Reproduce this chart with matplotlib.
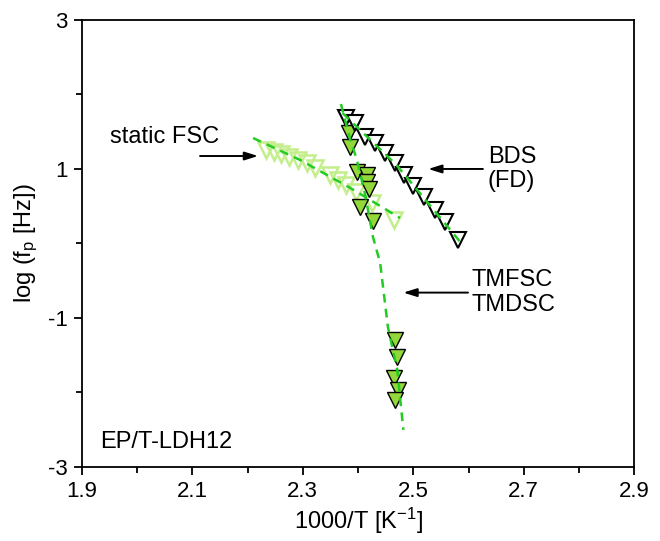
import matplotlib
matplotlib.use("Agg")
import matplotlib.pyplot as plt
from matplotlib.ticker import MultipleLocator

plt.rcParams['font.family'] = ['Liberation Sans', 'DejaVu Sans']
plt.rcParams['mathtext.fontset'] = 'custom'
plt.rcParams['mathtext.rm'] = 'Liberation Sans'
plt.rcParams['mathtext.it'] = 'Liberation Sans'

# BDS (FD) data
bds_x = [2.378, 2.395, 2.413, 2.431, 2.449, 2.467, 2.483, 2.500, 2.520, 2.539, 2.558, 2.581]
bds_y = [1.685, 1.617, 1.430, 1.349, 1.215, 1.081, 0.919, 0.772, 0.624, 0.450, 0.289, 0.047]
bds_fit_x = [2.372, 2.470, 2.585]
bds_fit_y = [1.75, 1.05, 0.02]

# static FSC data
sfsc_x = [2.233, 2.248, 2.261, 2.275, 2.291, 2.308, 2.322, 2.349, 2.364, 2.378, 2.396, 2.425, 2.465]
sfsc_y = [1.255, 1.228, 1.201, 1.161, 1.121, 1.081, 1.013, 0.919, 0.852, 0.785, 0.691, 0.544, 0.315]
sfsc_fit_x = [2.210, 2.295, 2.386, 2.476]
sfsc_fit_y = [1.416, 1.121, 0.745, 0.342]

# TMFSC / TMDSC data
tm_x = [2.384, 2.386, 2.398, 2.416, 2.416, 2.420, 2.404, 2.427, 2.467, 2.471, 2.465, 2.472, 2.467]
tm_y = [1.483, 1.295, 0.960, 0.919, 0.826, 0.732, 0.490, 0.302, -1.295, -1.523, -1.805, -1.966, -2.101]
tm_fit_x = [2.369, 2.386, 2.398, 2.413, 2.427, 2.440, 2.454, 2.471, 2.482]
tm_fit_y = [1.872, 1.389, 1.121, 0.651, 0.087, -0.262, -1.121, -1.698, -2.503]

fit_color = '#22cc22'
ms = 11

fig = plt.figure(figsize=(6.6, 5.41), dpi=100)
ax = fig.add_axes([0.124, 0.137, 0.837, 0.826])

dash = (0, (3.5, 2.5))
ax.plot(sfsc_fit_x, sfsc_fit_y, color=fit_color, lw=1.8, linestyle=dash, zorder=3)
ax.plot(sfsc_x, sfsc_y, linestyle='none', marker='v', ms=ms, mfc='none',
        mec='#c4ee8c', mew=1.8, zorder=2)
ax.plot(tm_x, tm_y, linestyle='none', marker='v', ms=ms, mfc='#92d83a',
        mec='black', mew=1.0, zorder=2)
ax.plot(bds_x, bds_y, linestyle='none', marker='v', ms=ms, mfc='white',
        mec='black', mew=1.5, zorder=2)
ax.plot(bds_fit_x, bds_fit_y, color=fit_color, lw=1.8, linestyle=dash, zorder=3)
ax.plot(tm_fit_x, tm_fit_y, color=fit_color, lw=1.8, linestyle=dash, zorder=3)

ax.set_xlim(1.9, 2.9)
ax.set_ylim(-3, 3)
ax.xaxis.set_minor_locator(MultipleLocator(0.1))
ax.yaxis.set_minor_locator(MultipleLocator(1))
ax.set_xticks([1.9, 2.1, 2.3, 2.5, 2.7, 2.9])
ax.set_xticklabels(['1.9', '2.1', '2.3', '2.5', '2.7', '2.9'])
ax.set_yticks([-3, -1, 1, 3])
ax.set_yticklabels(['-3', '-1', '1', '3'])
ax.tick_params(which='major', direction='out', length=6, width=1.3, labelsize=16, pad=4)
ax.tick_params(which='minor', direction='out', length=4, width=1.3)
for s in ax.spines.values():
    s.set_linewidth(1.3)

ax.set_xlabel('1000/T [K$^{-1}$]', fontsize=17, labelpad=3)
ax.set_ylabel('log (f$_\\mathrm{p}$ [Hz])', fontsize=17, labelpad=6)

ann_fs = 17
aprops = dict(arrowstyle='-|>,head_length=0.8,head_width=0.25',
              color='black', lw=1.4, shrinkA=0, shrinkB=0)
ax.text(1.951, 1.43, 'static FSC', fontsize=ann_fs, ha='left', va='center')
ax.annotate('', xy=(2.219, 1.174), xytext=(2.114, 1.174), arrowprops=aprops)
ax.text(2.635, 1.0, 'BDS\n(FD)', fontsize=ann_fs, ha='left', va='center', linespacing=1.15)
ax.annotate('', xy=(2.527, 1.0), xytext=(2.626, 1.0), arrowprops=aprops)
ax.text(2.606, -0.66, 'TMFSC\nTMDSC', fontsize=ann_fs, ha='left', va='center', linespacing=1.15)
ax.annotate('', xy=(2.482, -0.66), xytext=(2.599, -0.66), arrowprops=aprops)
ax.text(1.933, -2.75, 'EP/T-LDH12', fontsize=ann_fs, ha='left', va='baseline')

fig.savefig('out.png', dpi=100)
